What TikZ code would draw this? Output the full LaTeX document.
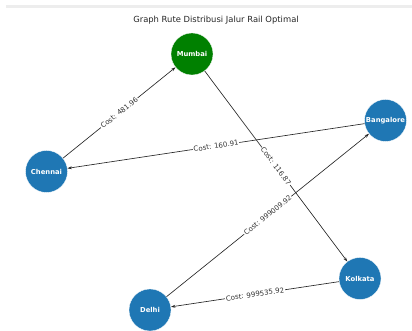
\documentclass[tikz,border=0pt]{standalone}
\usepackage{fontspec}
\setmainfont{DejaVu Sans}
\usetikzlibrary{arrows.meta}
\definecolor{nblue}{HTML}{1F77B4}
\definecolor{ngreen}{HTML}{008000}
\begin{document}
\begin{tikzpicture}[x=1pt,y=1pt,
  city/.style={circle, minimum size=42pt, inner sep=0pt, text=white,
    font=\fontsize{6.8}{8}\selectfont\bfseries, draw=white, line width=0.3pt},
  route/.style={-{Stealth[length=4.5pt,width=3pt]}, line width=0.65pt, draw=black!85},
  cost/.style={sloped, fill=white, inner sep=0.8pt,
    font=\fontsize{7}{8}\selectfont, text=black!80}]
\useasboundingbox (0,0) rectangle (412,331);
\fill[black!7] (6,323) rectangle (412,325.5);
\node[font=\fontsize{8.4}{10}\selectfont, text=black!85] (title) at (216,310.5)
  {Graph Rute Distribusi Jalur Rail Optimal};
\node[city, fill=ngreen] (mum) at (192,277) {Mumbai};
\node[city, fill=nblue] (ban) at (385.5,210.5) {Bangalore};
\node[city, fill=nblue] (che) at (46.5,159.5) {Chennai};
\node[city, fill=nblue] (kol) at (360,52.5) {Kolkata};
\node[city, fill=nblue] (del) at (150,21) {Delhi};
\draw[route] (che) -- node[cost]{Cost: 481.96} (mum);
\draw[route] (ban) -- node[cost]{Cost: 160.91} (che);
\draw[route] (mum) -- node[cost]{Cost: 116.87} (kol);
\draw[route] (del) -- node[cost]{Cost: 999009.92} (ban);
\draw[route] (kol) -- node[cost]{Cost: 999535.92} (del);
\end{tikzpicture}
\end{document}
